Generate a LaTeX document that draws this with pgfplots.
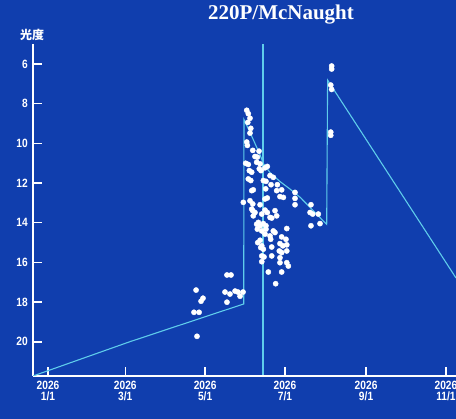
\documentclass[border=0pt]{standalone}
\usepackage{pgfplots}
\pgfplotsset{compat=1.18}
\usepackage{fontspec}
\setmainfont{Liberation Sans}
\newfontfamily\tickfont{Liberation Sans}[FakeStretch=0.85]
\newfontfamily\titlefont{Liberation Serif}
\newfontfamily\cjkfont{Noto Sans CJK JP}
\definecolor{bgblue}{RGB}{16,62,174}
\definecolor{curve}{RGB}{95,205,235}

% x = days since 2026-01-01, y = magnitude
\pgfplotstableread{
d m
113.1 17.39
118.4 17.80
116.9 17.95
111.5 18.51
115.4 18.51
113.8 19.72
136.7 16.63
139.8 16.63
135.2 17.49
139.0 17.59
142.9 17.44
145.1 17.49
149.0 17.49
146.7 17.70
136.7 18.00
151.8 8.33
153.0 8.50
154.3 8.73
152.6 8.94
154.9 9.24
154.3 9.48
151.8 9.93
152.3 10.10
156.4 10.35
161.2 10.39
158.1 10.66
159.9 10.69
151.0 11.00
153.0 11.06
159.4 10.95
162.0 11.03
161.4 11.28
162.7 11.37
153.8 11.37
155.6 11.45
165.8 11.23
167.5 11.16
169.6 11.62
172.1 11.71
164.5 11.87
166.5 11.91
153.0 11.79
154.9 11.87
175.2 12.08
155.6 12.38
156.8 12.34
166.3 12.29
170.4 12.08
174.7 12.38
178.5 12.34
177.2 12.68
179.8 12.72
188.7 12.47
165.8 12.80
167.5 12.75
149.2 12.97
154.3 12.89
156.4 13.05
162.0 13.09
188.7 12.77
188.7 13.09
200.9 13.09
155.6 13.31
158.1 13.48
156.8 13.65
156.4 13.39
163.3 13.56
165.8 13.36
167.5 13.48
173.4 13.39
174.7 13.65
170.9 13.76
169.6 13.73
200.2 13.48
202.2 13.56
206.5 13.56
160.7 13.98
159.4 14.07
162.0 14.15
164.5 14.04
166.5 14.15
159.9 14.32
163.3 14.41
166.5 14.32
172.1 14.41
165.8 14.57
182.4 14.29
200.9 14.15
207.8 14.04
169.6 14.66
170.1 14.83
173.4 14.49
178.5 14.71
181.8 14.83
162.0 14.88
160.2 15.00
177.2 15.05
179.4 15.16
182.4 15.11
163.3 15.16
162.5 15.25
164.5 15.33
170.9 15.22
176.7 15.42
178.5 15.50
182.4 15.42
163.3 15.67
165.0 15.72
170.9 15.67
177.2 15.76
163.3 15.96
177.2 16.01
182.4 16.01
183.6 16.18
168.3 16.48
178.5 16.48
173.9 17.07
216.7 6.10
216.7 6.25
216.0 7.06
216.7 7.28
216.0 9.43
216.0 9.59
}\obs

\begin{document}
\begin{tikzpicture}[x=1pt,y=1pt]
\fill[bgblue] (0,0) rectangle (456,419);
\begin{axis}[
  at={(33pt,43pt)}, anchor=south west,
  scale only axis, width=423pt, height=332pt,
  xmin=-11.5, xmax=311.7, ymin=4.99, ymax=21.72,
  y dir=reverse,
  axis x line*=bottom, axis y line*=left,
  axis line style={white, line width=1.6pt, -},
  tick align=inside, major tick length=9pt,
  major tick style={white, line width=1.4pt},
  xtick={0,59,120,181,243,304},
  xticklabels={{2026\\1/1},{2026\\3/1},{2026\\5/1},{2026\\7/1},{2026\\9/1},{2026\\11/1}},
  ytick={6,8,10,12,14,16,18,20},
  yticklabels={6,8,10,12,14,16,18,20},
  ticklabel style={text=white, font=\tickfont\bfseries\fontsize{12}{11.5}\selectfont, inner sep=0pt},
  xticklabel style={align=center, yshift=-4.5pt},
  yticklabel style={xshift=-5pt},
  /pgf/number format/assume math mode=true,
]
\addplot[curve, line width=1.1pt] coordinates {
  (-11.5,21.72) (62.6,19.99) (149.5,18.09) (149.7,8.80)
  (154.3,9.44) (158.1,10.0) (161.9,10.56) (164.5,11.01) (169.6,11.47)
  (177.2,11.92) (184.9,12.30) (192.5,12.71) (202.7,13.39) (212.9,14.08)
  (213.6,6.81) (311.7,16.78)
};
\addplot[curve, line width=1.8pt] coordinates {(164.2,4.99) (164.2,21.65)};
\addplot[only marks, mark=*, mark size=2.6pt, white, mark options={fill=white, draw=white}]
  table[x=d, y=m] {\obs};
\end{axis}
\node[anchor=base, text=white, font=\titlefont\bfseries\fontsize{21}{22}\selectfont] at (281,399) {220P/McNaught};
\node[text=white, font=\cjkfont\bfseries\fontsize{12}{12}\selectfont] at (32,384) {光度};
\pgfresetboundingbox
\useasboundingbox (0,0) rectangle (456,419);
\end{tikzpicture}
\end{document}
